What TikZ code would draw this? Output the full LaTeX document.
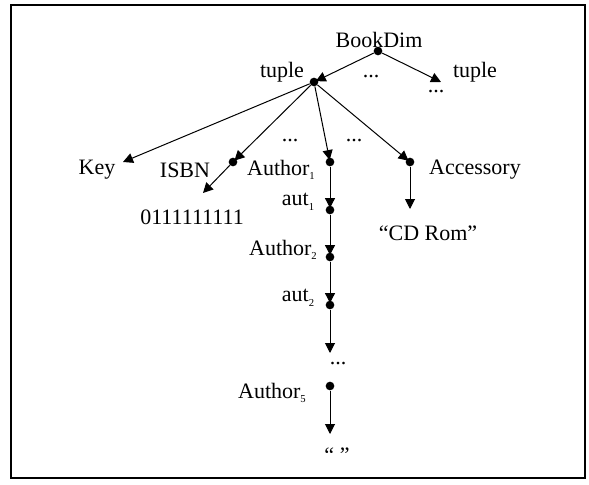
\documentclass[tikz,border=0pt]{standalone}
\usepackage{fontspec}
\setmainfont{Liberation Serif}
\usetikzlibrary{arrows.meta}
\newcommand{\mysub}[1]{\raisebox{-3.5pt}{\fontsize{8}{8}\selectfont #1}}
\tikzset{
  lbl/.style={inner sep=0pt, font=\fontsize{16.5}{18}\selectfont},
  dotnode/.style={circle, fill=black, inner sep=0pt, minimum size=6.5pt},
  arr/.style={-{Triangle[length=7.5pt,width=7.5pt]}, line width=0.75pt},
  into/.style={shorten >=-2pt},
}
\begin{document}
\begin{tikzpicture}[x=0.75pt,y=-0.75pt]
\useasboundingbox (0,0) rectangle (589,485);
\draw[line width=1.6pt] (11,5) rectangle (585,478);
% dots
\node[dotnode] (bd) at (378,51) {};
\node[dotnode] (tp) at (314,82) {};
\node[dotnode] (isbn) at (233,162) {};
\node[dotnode] (a1) at (330,162) {};
\node[dotnode] (acc) at (410,162) {};
\node[dotnode] (au1) at (330,210) {};
\node[dotnode] (a2) at (330,257) {};
\node[dotnode] (au2) at (330,305) {};
\node[dotnode] (a5) at (330,386) {};
% free ends
\coordinate (rt) at (441,82);
\coordinate (key) at (123,162);
\coordinate (num) at (203,193);
\coordinate (dots3) at (330,353);
\coordinate (empty) at (330,434);
\coordinate (cd) at (410,209);
% labels
\node[lbl] (tBook) at (379,40) {BookDim};
\node[lbl] (tTup) at (282,72) {tuple};
\node[lbl] (tD1) at (371,77) {...};
\node[lbl] (tTup2) at (475,72) {tuple};
\node[lbl] (tD2) at (436,92) {...};
\node[lbl] (tKey) at (97,170) {Key};
\node[lbl] (tISBN) at (185,170) {ISBN};
\node[lbl] (tNum) at (192,217) {0111111111};
\node[lbl] (tD3) at (290,141) {...};
\node[lbl] (tD4) at (354,141) {...};
\node[lbl] (tA1) at (281,170) {Author\mysub{1}};
\node[lbl] (tAcc) at (475,170) {Accessory};
\node[lbl] (tau1) at (298,202) {aut\mysub{1}};
\node[lbl] (tCD) at (428,233) {“CD Rom”};
\node[lbl] (tA2) at (283,250) {Author\mysub{2}};
\node[lbl] (tau2) at (298,298) {aut\mysub{2}};
\node[lbl] (tD5) at (338,364) {...};
\node[lbl] (tA5) at (272,393) {Author\mysub{5}};
\node[lbl] (tE) at (337,455) {“ ”};
% connectors
\draw[arr,into] (bd) -- (tp);
\draw[arr] (bd) -- (rt);
\draw[arr] (tp) -- (key);
\draw[arr,into] (tp) -- (isbn);
\draw[arr,into] (tp) -- (a1);
\draw[arr,into] (tp) -- (acc);
\draw[arr] (isbn) -- (num);
\draw[arr,into] (a1) -- (au1);
\draw[arr,into] (au1) -- (a2);
\draw[arr,into] (a2) -- (au2);
\draw[arr] (au2) -- (dots3);
\draw[arr] (a5) -- (empty);
\draw[arr] (acc) -- (cd);
\end{tikzpicture}
\end{document}
